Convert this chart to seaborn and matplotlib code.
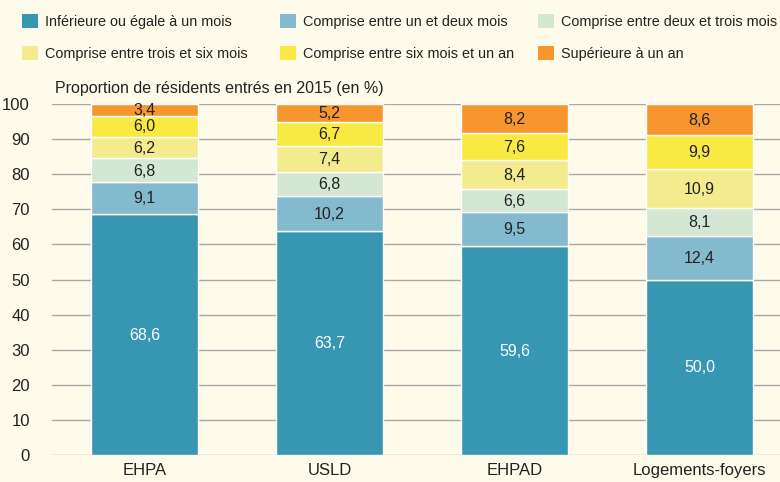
import numpy as np
import pandas as pd
import seaborn as sns
import matplotlib.pyplot as plt
from matplotlib.patches import Patch

# categories and series (proportions en %)
etabs = ["EHPA", "USLD", "EHPAD", "Logements-foyers"]
durees = ["Inférieure ou égale à un mois", "Comprise entre un et deux mois",
          "Comprise entre deux et trois mois", "Comprise entre trois et six mois",
          "Comprise entre six mois et un an", "Supérieure à un an"]
moins_1m = [68.6, 63.7, 59.6, 50.0]
de_1_2m = [9.1, 10.2, 9.5, 12.4]
de_2_3m = [6.8, 6.8, 6.6, 8.1]
de_3_6m = [6.2, 7.4, 8.4, 10.9]
de_6_12m = [6.0, 6.7, 7.6, 9.9]
plus_1an = [3.4, 5.2, 8.2, 8.6]
series = [moins_1m, de_1_2m, de_2_3m, de_3_6m, de_6_12m, plus_1an]
couleurs = ["#3797B2", "#83BACE", "#D3E7D2", "#F3EB8E", "#F8E943", "#F7962F"]

df = pd.DataFrame({"etab": np.repeat(etabs, len(durees)),
                   "duree": durees * len(etabs),
                   "val": [series[j][i] for i in range(len(etabs)) for j in range(len(durees))]})

bg = "#FEFBEA"
txt = "#222222"
sns.set_style("white")
plt.rcParams['font.family'] = ['Liberation Sans', 'DejaVu Sans']

fig = plt.figure(figsize=(7.8, 4.82), dpi=100, facecolor=bg)
ax = fig.add_axes([52 / 780, (482 - 455) / 482, 740 / 780, 351 / 482])
ax.set_facecolor(bg)

bottom = np.zeros(len(etabs))
for j, d in enumerate(durees):
    sub = df[df.duree == d]
    vals = sub.val.values
    ax.bar(sub.etab, vals, bottom=bottom, width=0.573, color=couleurs[j], zorder=3)
    for i, v in enumerate(vals):
        ax.text(i, bottom[i] + v / 2 - 0.2, f"{v:.1f}".replace(".", ","), ha="center", va="center",
                fontsize=11.5, color="white" if j == 0 else txt, zorder=4)
    bottom += vals

ax.set_ylim(0, 100)
ax.set_xlim(-0.5, 3.5)
ax.set_yticks(range(0, 101, 10))
ax.grid(axis="y", color="#A8A8A8", lw=1, zorder=0)
ax.tick_params(axis="both", length=0, labelsize=12, colors=txt)
ax.tick_params(axis="y", pad=16)
ax.tick_params(axis="x", pad=6)
for s in ax.spines.values():
    s.set_visible(False)
ax.set_xlabel("")
ax.set_ylabel("")
fig.text(55 / 780, 1 - 88 / 482, "Proportion de résidents entrés en 2015 (en %)",
         fontsize=11.5, color=txt, va="center")

# legend: 3 columns, filled row by row
handles = [Patch(facecolor=c, edgecolor="none") for c in couleurs]
for k, x0 in enumerate([10, 268, 526]):
    leg = fig.legend([handles[k], handles[k + 3]], [durees[k], durees[k + 3]],
                     loc="upper left", bbox_to_anchor=(x0 / 780, 1 - 2 / 482),
                     frameon=False, fontsize=10.4, handlelength=1.15, handleheight=1.15,
                     handletextpad=0.45, labelspacing=1.2, borderpad=0.3)
    for t in leg.get_texts():
        t.set_color(txt)

fig.savefig("out.png", dpi=100, facecolor=bg)
